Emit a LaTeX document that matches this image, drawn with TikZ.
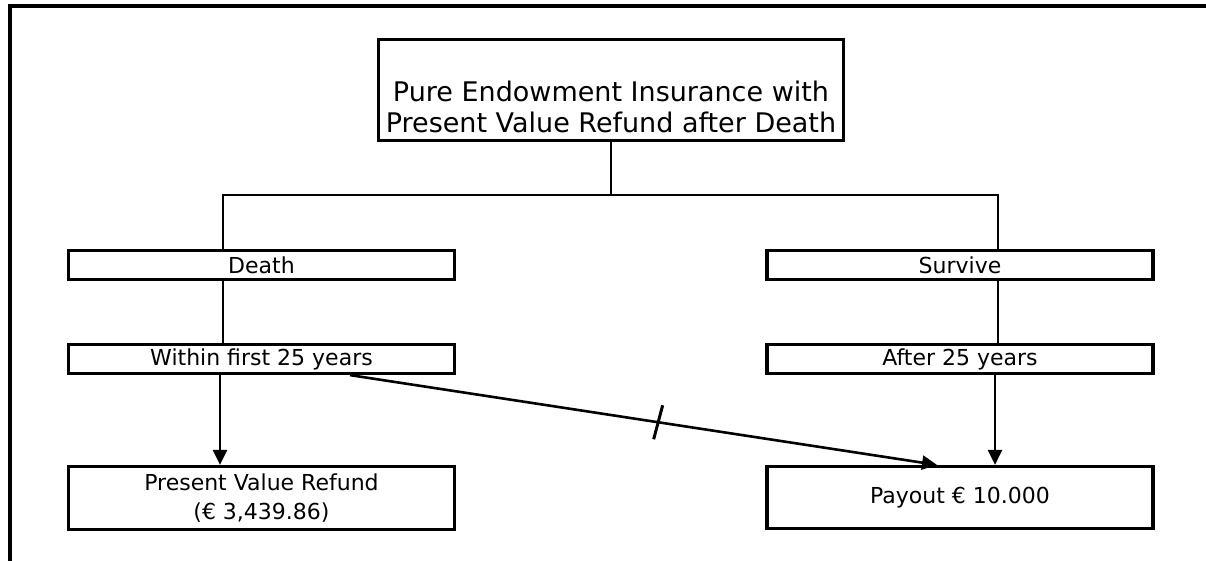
\documentclass[tikz,border=0pt]{standalone}
\usepackage{fontspec}
\setmainfont{DejaVu Sans}
\usetikzlibrary{arrows.meta,calc}
\begin{document}
\begin{tikzpicture}[x=1pt,y=-1pt,
  box/.style={draw=black,line width=3.2pt,rectangle,inner sep=0pt,align=center,font=\fontsize{22}{29.5}\selectfont},
  conn/.style={draw=black,line width=2.6pt},
  arr/.style={conn,-{Triangle[length=15pt,width=14pt]}},
  frame/.style={draw=black,line width=3.6pt}]
\useasboundingbox (0,0) rectangle (1206,561);
% frame
\coordinate (fbl) at (10,563);
\coordinate (ftl) at (10,6);
\coordinate (ftr) at (1208,6);
\draw[frame] (fbl) -- (ftl) -- (ftr);
% boxes
\node[box,minimum width=465pt,minimum height=101pt] (title) at (611,90) {};
\node[align=center,font=\fontsize{27}{31}\selectfont,inner sep=0pt] (titletext) at (611,107) {Pure Endowment Insurance with\\Present Value Refund after Death};
\node[box,minimum width=386pt,minimum height=29pt] (death) at (261.5,265) {Death};
\node[box,minimum width=386pt,minimum height=29pt] (survive) at (960,265) {Survive};
\node[box,minimum width=386pt,minimum height=29pt] (within) at (261.5,359) {Within first 25 years};
\node[box,minimum width=386pt,minimum height=29pt] (after) at (960,359) {After 25 years};
\node[box,minimum width=386pt,minimum height=63pt] (pvr) at (261.5,498) {Present Value Refund\\(€ 3,439.86)};
\node[box,minimum width=386pt,minimum height=62pt] (payout) at (960,497.5) {Payout € 10.000};
% tree connectors
\coordinate (split) at ($(title.south)+(0,53)$);
\draw[conn] (title.south) -- (split);
\draw[conn] ([xshift=-38.5pt]death.north) |- (split) -| ([xshift=38pt]survive.north);
\draw[conn] ([xshift=-38.5pt]death.south) -- ([xshift=-38.5pt]within.north);
\draw[conn] ([xshift=38pt]survive.south) -- ([xshift=38pt]after.north);
\draw[arr] ([xshift=-41.5pt]within.south) -- ([xshift=-41.5pt]pvr.north);
\draw[arr] ([xshift=35pt]after.south) -- ([xshift=35pt]payout.north);
\draw[arr] ([xshift=88.5pt]within.south) -- coordinate[pos=0.525] (tick) ([xshift=-23pt]payout.north);
\draw[conn,line width=3pt] ($(tick)+(-4.5,17)$) -- ($(tick)+(4.5,-17)$);
\end{tikzpicture}
\end{document}
